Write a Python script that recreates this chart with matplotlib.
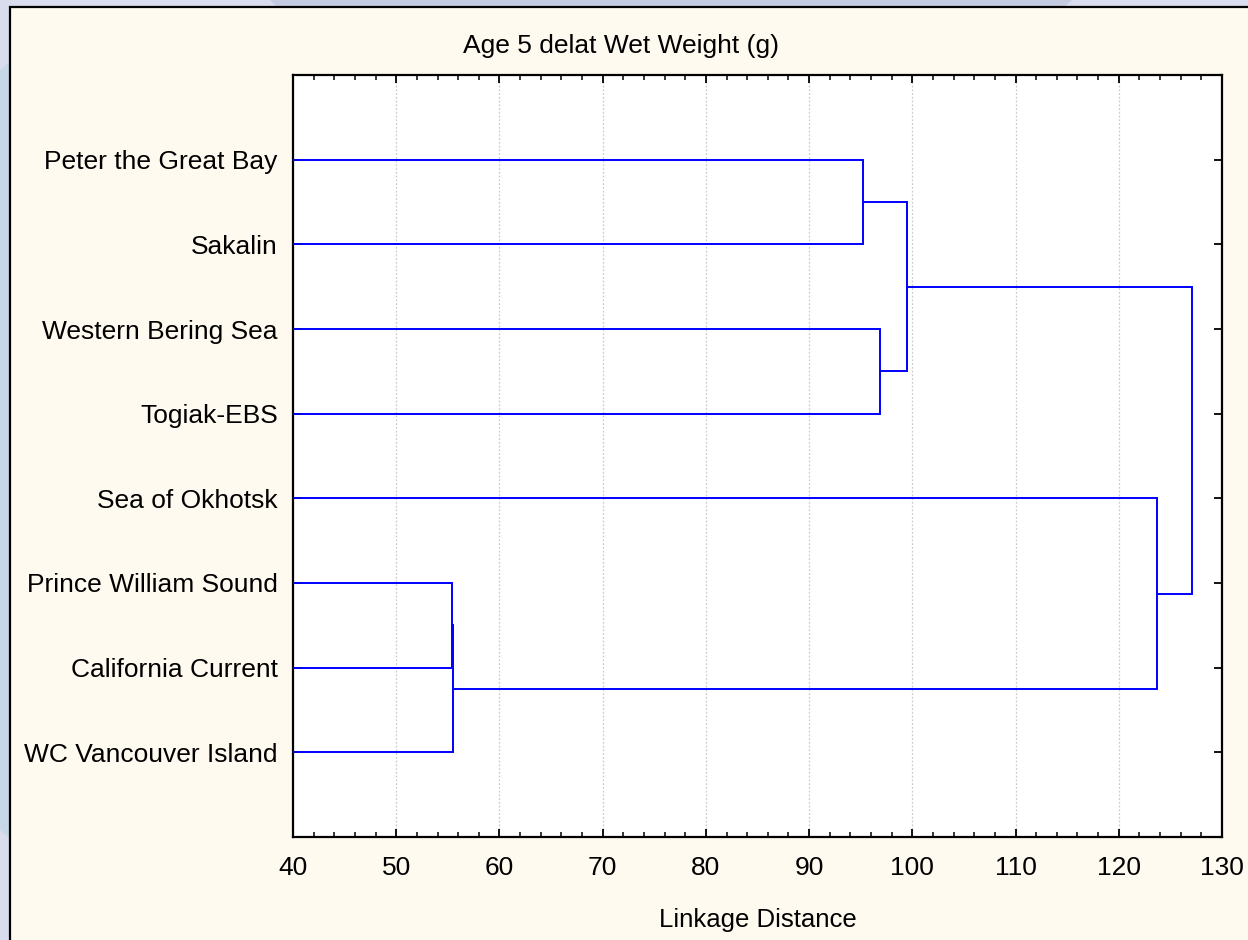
import matplotlib
matplotlib.use("Agg")
import matplotlib.pyplot as plt
from matplotlib.patches import Rectangle, Polygon
from matplotlib.ticker import MultipleLocator

plt.rcParams['font.family'] = ['Liberation Sans', 'DejaVu Sans']

# leaves, top to bottom
leaves = ["Peter the Great Bay", "Sakalin", "Western Bering Sea", "Togiak-EBS",
          "Sea of Okhotsk", "Prince William Sound", "California Current",
          "WC Vancouver Island"]

# joins: (child a, child b, linkage distance); new nodes are numbered from 8 up
join_a = [0, 2, 8, 5, 11, 4, 10]
join_b = [1, 3, 9, 6, 7, 12, 13]
join_dist = [95.25, 96.87, 99.52, 55.43, 55.53, 123.74, 127.07]

title = "Age 5 delat Wet Weight (g)"
xlab = "Linkage Distance"

W, H = 1248, 940
fig = plt.figure(figsize=(W / 100, H / 100), dpi=100)
fig.patch.set_facecolor("#d9dcec")

# backdrop bands behind the panel
fig.patches.append(Polygon([(270 / W, 1), (1072 / W, 1), (1040 / W, 0.97), (300 / W, 0.97)],
                           closed=True, transform=fig.transFigure, facecolor="#c5cbe1",
                           edgecolor="none", zorder=0))
fig.patches.append(Polygon([(0, 1 - 70 / H), (12 / W, 1 - 60 / H), (12 / W, 1 - 840 / H), (0, 1 - 830 / H)],
                           closed=True, transform=fig.transFigure, facecolor="#c6d7e7",
                           edgecolor="none", zorder=0))
# cream panel with black frame
fig.patches.append(Rectangle((10 / W, -0.05), 1.1, 1 - 7 / H + 0.05, transform=fig.transFigure,
                             facecolor="#fffaef", edgecolor="black", linewidth=1.6, zorder=1))

ax = fig.add_axes([293 / W, 1 - 837 / H, (1222 - 293) / W, (837 - 75) / H])
ax.set_facecolor("white")
ax.set_zorder(2)

# node positions: leaves sit at 1..8, each join at the mean of its children
pos = {i: i + 1 for i in range(len(leaves))}
dist = {i: 0.0 for i in range(len(leaves))}
for k, (a, b, d) in enumerate(zip(join_a, join_b, join_dist)):
    node = len(leaves) + k
    ax.plot([dist[a], d, d, dist[b]], [pos[a], pos[a], pos[b], pos[b]],
            color="#0000ff", linewidth=1.4, solid_joinstyle="miter", zorder=3)
    pos[node] = (pos[a] + pos[b]) / 2
    dist[node] = d

ax.set_xlim(40, 130)
ax.set_ylim(9, 0)
ax.xaxis.set_major_locator(MultipleLocator(10))
ax.xaxis.set_minor_locator(MultipleLocator(2))
ax.set_yticks(range(1, len(leaves) + 1))
ax.set_yticklabels(leaves)

ax.grid(axis="x", which="major", color="#cccccc", linestyle=(0, (1.5, 1.5)), linewidth=0.9)
ax.set_axisbelow(True)

ax.tick_params(axis="both", which="both", direction="in", top=True, right=True, colors="black")
ax.tick_params(axis="both", which="major", length=6, width=1.3)
ax.tick_params(axis="x", which="minor", length=3.5, width=1.1)
ax.tick_params(axis="x", which="major", labelsize=19, pad=14)
ax.tick_params(axis="y", which="major", labelsize=19, pad=11)
for s in ax.spines.values():
    s.set_linewidth(1.6)

ax.set_xlabel(xlab, fontsize=18.5, labelpad=20)
fig.text(621 / W, 1 - 53 / H, title, ha="center", va="baseline", fontsize=19)

fig.savefig("out.png", dpi=100, facecolor=fig.get_facecolor())
